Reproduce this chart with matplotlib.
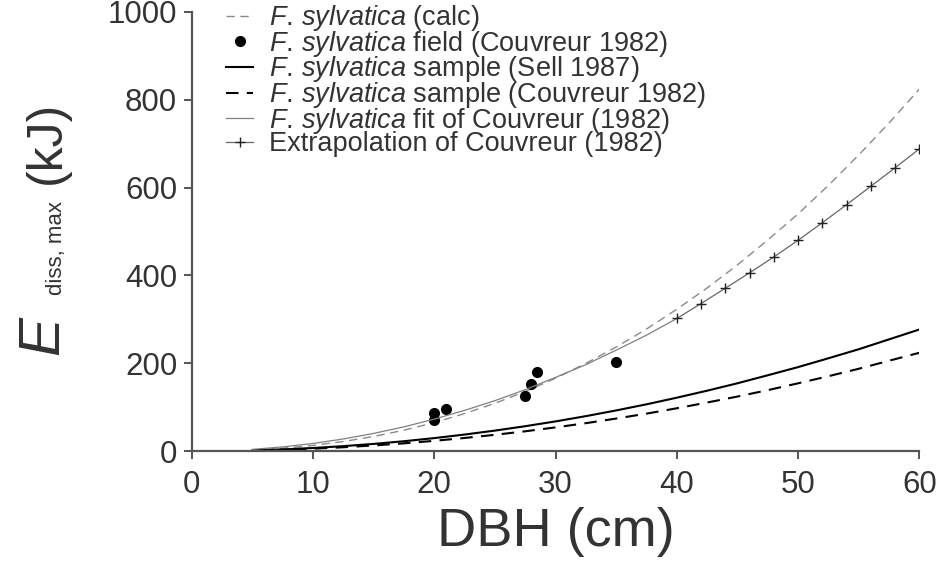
import matplotlib
matplotlib.use("Agg")
import matplotlib.pyplot as plt

plt.rcParams['font.family'] = ['Liberation Sans', 'DejaVu Sans']
plt.rcParams['mathtext.fontset'] = 'custom'
plt.rcParams['mathtext.it'] = 'Liberation Sans:italic'
plt.rcParams['mathtext.rm'] = 'Liberation Sans'

TXT = '#333333'

# DBH grid (cm) for the model curves
dbh = [5, 7.5, 10, 12.5, 15, 17.5, 20, 22.5, 25, 27.5, 30, 32.5, 35, 37.5,
       40, 42.5, 45, 47.5, 50, 52.5, 55, 57.5, 60]

# E_diss,max (kJ)
e_calc = [2.6, 6.8, 13.1, 22.0, 33.5, 47.8, 65.1, 85.6, 109, 135.8, 166, 199.9,
          237, 278, 323, 371.5, 424, 480.6, 540, 605, 674, 747, 824]
e_sell = [1.8, 4.1, 7.3, 11.5, 16.6, 22.7, 29.8, 37.9, 46.9, 56.9, 67.8, 79.8,
          92.8, 106.7, 121.8, 137.7, 154.6, 172.8, 191.4, 211.5, 232, 254.5, 277]
e_couv_sample = [1.4, 3.2, 5.7, 9.0, 13.1, 17.9, 23.6, 30.1, 37.3, 45.3, 54.2, 63.8,
                 74.3, 85.5, 97.7, 110.8, 124.4, 139.0, 154.5, 170.7, 187.6, 205.9, 224]

dbh_fit = [5, 7.5, 10, 12.5, 15, 17.5, 20, 22.5, 25, 27.5, 30, 32.5, 35, 37.5, 40]
e_fit = [4.2, 9.8, 17.6, 27.9, 40.5, 55.4, 73, 92.9, 115, 140, 168, 197, 230, 264, 302]

dbh_extra = [40, 42, 44, 46, 48, 50, 52, 54, 56, 58, 60]
e_extra = [302, 336, 371, 406, 442, 480, 520, 561, 603, 645, 688]

field_dbh = [20, 20, 21, 27.5, 28, 28.5, 35]
field_e = [86, 71, 95, 125, 153, 180, 202]

fig = plt.figure(figsize=(9.43, 5.71), dpi=100)
ax = fig.add_axes([0.2033, 0.2098, 0.7717, 0.7697])

ax.plot(dbh, e_calc, color='#8a8a8a', lw=1.0, dashes=(6, 4),
        label=r'$F.\,sylvatica$ (calc)')
ax.plot(field_dbh, field_e, 'o', color='black', ms=8, mec='none',
        label=r'$F.\,sylvatica$ field (Couvreur 1982)')
ax.plot(dbh, e_sell, color='black', lw=1.5,
        label=r'$F.\,sylvatica$ sample (Sell 1987)')
ax.plot(dbh, e_couv_sample, color='black', lw=1.5, dashes=(6, 4),
        label=r'$F.\,sylvatica$ sample (Couvreur 1982)')
ax.plot(dbh_fit, e_fit, color='#808080', lw=0.9,
        label=r'$F.\,sylvatica$ fit of Couvreur (1982)')
ax.plot(dbh_extra, e_extra, color='#666666', lw=0.9, marker='+', ms=7,
        mec='#222222', mew=1.0, label='Extrapolation of Couvreur (1982)')

ax.set_xlim(0, 60)
ax.set_ylim(0, 1000)
ax.set_xticks([0, 10, 20, 30, 40, 50, 60])
ax.set_yticks([0, 200, 400, 600, 800, 1000])
for s in ['top', 'right']:
    ax.spines[s].set_visible(False)
for s in ['left', 'bottom']:
    ax.spines[s].set_color('#555555')
    ax.spines[s].set_linewidth(1.6)
ax.tick_params(direction='out', length=5.5, width=1.4, color='#555555',
               labelsize=22.5, labelcolor=TXT)
ax.tick_params(axis='y', pad=5)
ax.tick_params(axis='x', pad=8)

ax.set_xlabel('DBH (cm)', fontsize=39, color=TXT, labelpad=5)

# y label built from pieces so the subscript can stay small
fig.text(58 / 943, 1 - 355 / 571, 'E', fontsize=42, style='italic', color=TXT,
         rotation=90, rotation_mode='anchor', ha='left', va='baseline')
fig.text(62 / 943, 1 - 295 / 571, 'diss, max', fontsize=16, color=TXT,
         rotation=90, rotation_mode='anchor', ha='left', va='baseline')
fig.text(60 / 943, 1 - 184 / 571, '(kJ)', fontsize=36, color=TXT,
         rotation=90, rotation_mode='anchor', ha='left', va='baseline')

leg = ax.legend(loc='upper left', bbox_to_anchor=(226 / 943, 1 - 3 / 571),
                bbox_transform=fig.transFigure, frameon=False, fontsize=19.5,
                handlelength=1.0, handletextpad=0.6, labelspacing=-0.16,
                borderpad=0, borderaxespad=0)
for t in leg.get_texts():
    t.set_color(TXT)

fig.savefig('out.png', dpi=100)
